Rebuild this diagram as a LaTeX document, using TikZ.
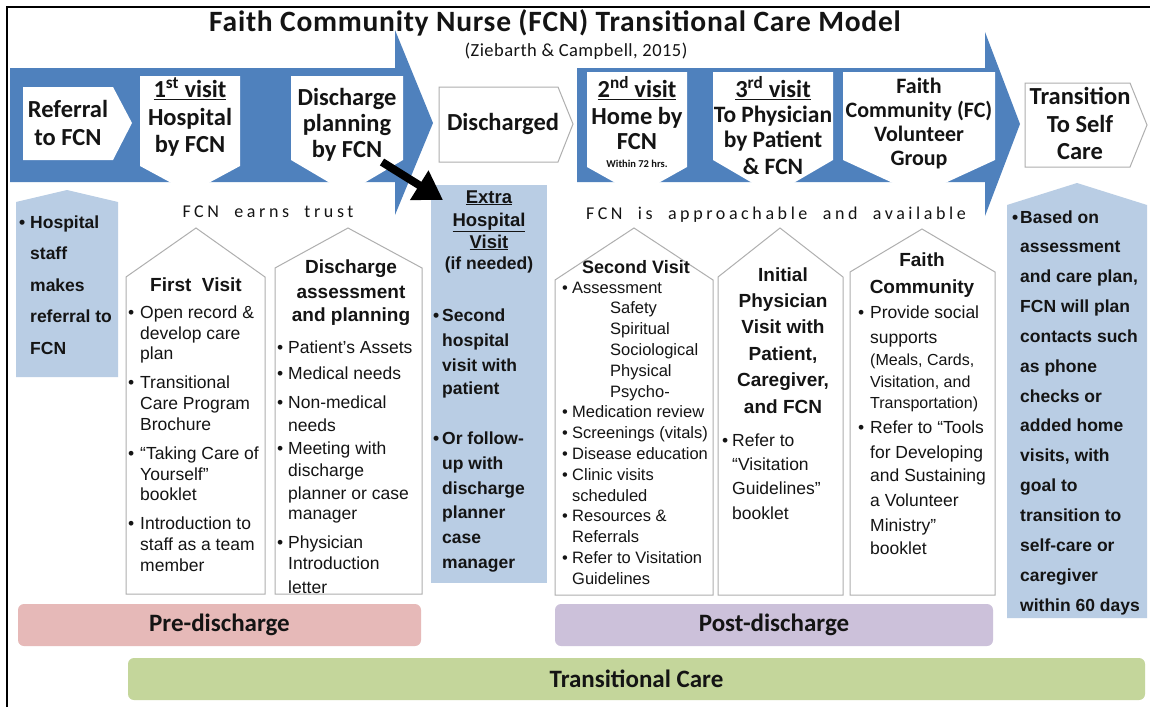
\documentclass[tikz,border=0pt]{standalone}
\usepackage{fontspec}
\setmainfont{Liberation Sans}
\newfontfamily\calib{Carlito}
\newfontfamily\calibwide[LetterSpace=2.5]{Carlito}
\newfontfamily\spacedcal[LetterSpace=20,WordSpace=2]{Carlito}
\usetikzlibrary{arrows.meta}
\definecolor{bigblue}{RGB}{79,129,189}
\definecolor{paleblue}{RGB}{185,205,228}
\definecolor{prepink}{RGB}{230,185,184}
\definecolor{postlilac}{RGB}{204,193,218}
\definecolor{tcgreen}{RGB}{196,214,155}
\definecolor{outl}{RGB}{175,175,175}
\definecolor{ink}{RGB}{20,20,20}
\newcommand\fsz[2]{\fontsize{#1}{#2}\selectfont}
\tikzset{
  whitebox/.style={fill=white},
  outbox/.style={fill=white, draw=outl, line width=1pt},
  house/.style={fill=white, draw=outl, line width=1pt},
  bluebox/.style={fill=paleblue},
  phasebar/.style={rounded corners=6pt, inner sep=0pt, text=ink, font=\calib\bfseries\fsz{25}{28}},
  ln/.style={anchor=base west, inner sep=0pt, text=ink},
  lnc/.style={anchor=base, inner sep=0pt, text=ink},
  topt/.style={anchor=base, inner sep=0pt, text=ink, font=\calib\bfseries\fsz{24.5}{27}},
  rg/.style={font=\fsz{17.5}{20}},
  rgs/.style={font=\fsz{16.5}{20}},
  bd/.style={font=\bfseries\fsz{17.5}{20}},
  hd/.style={font=\bfseries\fsz{19}{22}}
}
\begin{document}
\begin{tikzpicture}[x=1pt,y=-1pt]
\useasboundingbox (0,0) rectangle (1150,707);
\fill[white] (0,0) rectangle (1150,707);
\draw[line width=2pt] (7,707) -- (7,7) -- (1150,7);

% title
\node[font=\calibwide\bfseries\fsz{29.5}{32}, text=ink, inner sep=0pt] (title) at (555,23) {Faith Community Nurse (FCN) Transitional Care Model};
\node[font=\calibwide\fsz{18.5}{21}, text=ink, inner sep=0pt] (cite) at (576,51) {(Ziebarth \& Campbell, 2015)};

% big arrows
\fill[bigblue] (10,68) -- (395,68) -- (395,30) -- (433,123) -- (395,215) -- (395,182) -- (10,182) -- cycle;
\fill[bigblue] (577,68) -- (985,68) -- (985,32) -- (1020,124) -- (985,216) -- (985,182) -- (577,182) -- cycle;

% white step shapes
\fill[whitebox] (23,87) -- (113,87) -- (132,123) -- (113,160) -- (23,160) -- cycle;
\fill[whitebox] (140,76) -- (240,76) -- (240,166) -- (190,193) -- (140,166) -- cycle;
\fill[whitebox] (291,76) -- (403,76) -- (403,160) -- (347,193) -- (291,160) -- cycle;
\draw[outbox] (439,87) -- (558,87) -- (573,124) -- (558,162) -- (439,162) -- cycle;
\fill[whitebox] (587,72) -- (687,72) -- (687,167) -- (637,195) -- (587,167) -- cycle;
\fill[whitebox] (713,72) -- (833,72) -- (833,160) -- (773,195) -- (713,160) -- cycle;
\fill[whitebox] (843,72) -- (995,72) -- (995,160) -- (919,195) -- (843,160) -- cycle;
\draw[outbox] (1025,83) -- (1130,83) -- (1147,125) -- (1130,167) -- (1025,167) -- cycle;

% step texts
\node[topt] (r1) at (68,117.5) {Referral};
\node[topt] (r2) at (68,145.5) {to FCN};
\node[topt] (v1a) at (190,97.5) {\underline{1\textsuperscript{st} visit}};
\node[topt] (v1b) at (190,125.5) {Hospital};
\node[topt] (v1c) at (190,152.5) {by FCN};
\node[topt] (dp1) at (347,105.5) {Discharge};
\node[topt] (dp2) at (347,131.5) {planning};
\node[topt] (dp3) at (347,157.5) {by FCN};
\node[topt] (dis) at (503,130.5) {Discharged};
\node[topt] (v2a) at (637,97.5) {\underline{2\textsuperscript{nd} visit}};
\node[topt] (v2b) at (637,124.5) {Home by};
\node[topt] (v2c) at (637,149.5) {FCN};
\node[lnc, font=\calib\bfseries\fsz{10.5}{12}] (v2d) at (637,167) {Within 72 hrs.};
\node[topt] (v3a) at (773,97.5) {\underline{3\textsuperscript{rd} visit}};
\node[topt, font=\calib\bfseries\fsz{23.5}{26}] (v3b) at (773,122) {To Physician};
\node[topt, font=\calib\bfseries\fsz{23.5}{26}] (v3c) at (773,147) {by Patient};
\node[topt, font=\calib\bfseries\fsz{23.5}{26}] (v3d) at (773,174) {\& FCN};
\node[topt, font=\calib\bfseries\fsz{22}{24}] (fc1) at (919,93) {Faith};
\node[topt, font=\calib\bfseries\fsz{22}{24}] (fc2) at (919,117) {Community (FC)};
\node[topt, font=\calib\bfseries\fsz{22}{24}] (fc3) at (919,141) {Volunteer};
\node[topt, font=\calib\bfseries\fsz{22}{24}] (fc4) at (919,165) {Group};
\node[topt] (ts1) at (1080,104.5) {Transition};
\node[topt] (ts2) at (1080,132.5) {To Self};
\node[topt] (ts3) at (1080,159.5) {Care};

% spaced captions
\node[lnc, font=\spacedcal\fsz{18}{20}] (trust) at (268,217) {FCN earns trust};
\node[lnc, font=\spacedcal\fsz{18}{20}] (avail) at (776,219) {FCN is approachable and available};

% lower shapes
\fill[bluebox] (16,202) -- (67,190) -- (118,202) -- (118,377) -- (16,377) -- cycle;
\draw[house] (126,277) -- (196,228) -- (265,277) -- (265,594) -- (126,594) -- cycle;
\draw[house] (275,268) -- (348,228) -- (422,268) -- (422,594) -- (275,594) -- cycle;
\fill[bluebox] (431,185) rectangle (547,583);
\draw[house] (555,280) -- (634,228) -- (713,280) -- (713,595) -- (555,595) -- cycle;
\draw[house] (718,277) -- (780,228) -- (843,277) -- (843,595) -- (718,595) -- cycle;
\draw[house] (850,272) -- (922,229) -- (995,272) -- (995,595) -- (850,595) -- cycle;
\fill[bluebox] (1007,205) -- (1077,183) -- (1147,205) -- (1147,618) -- (1007,618) -- cycle;

% hospital staff
\node[ln, bd] (hsb) at (19,228) {•};
\foreach \ly/\lt [count=\i] in {228/Hospital, 259.5/staff, 291/makes, 322.5/referral to, 354/FCN}
  \node[ln, bd] (hs\i) at (30,\ly) {\lt};

% first visit
\node[lnc, hd] (fvh) at (196,291) {First\ \ Visit};
\foreach \ly/\lt [count=\i] in {318/Open record \&, 339/develop care, 359.5/plan, 388/Transitional, 409/Care Program, 430/Brochure, 459/“Taking Care of, 480/Yourself”, 500/booklet, 529/Introduction to, 550/staff as a team, 571/member}
  \node[ln, rg] (fv\i) at (140,\ly) {\lt};
\foreach \ly [count=\i] in {318,388,459,529}
  \node[ln, rg] (fvb\i) at (128,\ly) {•};

% discharge assessment
\foreach \ly/\lt [count=\i] in {273/Discharge, 298/assessment, 321/and planning}
  \node[lnc, hd] (dah\i) at (351,\ly) {\lt};
\foreach \ly/\lt [count=\i] in {353/Patient’s Assets, 379/Medical needs, 408/Non-medical, 431/needs, 454/Meeting with, 476/discharge, 499/planner or case, 519/manager, 548/Physician, 569/Introduction, 593/letter}
  \node[ln, rg] (da\i) at (288,\ly) {\lt};
\foreach \ly [count=\i] in {353,379,408,454,548}
  \node[ln, rg] (dab\i) at (277,\ly) {•};

% extra hospital visit
\foreach \ly/\lt [count=\i] in {203/Extra, 226/Hospital, 248/Visit}
  \node[lnc, font=\bfseries\fsz{18.5}{21}] (exh\i) at (489,\ly) {\underline{\lt}};
\node[lnc, bd] (exh4) at (489,269) {(if needed)};
\foreach \ly/\lt [count=\i] in {321/Second, 346/hospital, 371/visit with, 394/patient, 444/Or follow-, 469/up with, 494/discharge, 518/planner /, 543/case, 568/manager}
  \node[ln, bd] (ex\i) at (442,\ly) {\lt};
\foreach \ly [count=\i] in {321,444}
  \node[ln, bd] (exb\i) at (433,\ly) {•};

% second visit
\node[lnc, font=\bfseries\fsz{18}{21}] (svh) at (636,273) {Second Visit};
\foreach \ly/\lt [count=\i] in {293/Assessment, 417.8/Medication review, 438.6/Screenings (vitals), 459.4/Disease education, 480.2/Clinic visits, 501/scheduled, 521.8/Resources \&, 542.6/Referrals, 563.4/Refer to Visitation, 584.2/Guidelines}
  \node[ln, rgs] (sv\i) at (572,\ly) {\lt};
\foreach \ly/\lt [count=\i] in {313.8/Safety, 334.6/Spiritual, 355.4/Sociological, 376.2/Physical, 397/Psycho-}
  \node[ln, rgs] (svs\i) at (610,\ly) {\lt};
\foreach \ly [count=\i] in {293,417.8,438.6,459.4,480.2,521.8,563.4}
  \node[ln, rgs] (svb\i) at (562,\ly) {•};

% initial physician visit
\foreach \ly/\lt [count=\i] in {281/Initial, 307.4/Physician, 333.8/Visit with, 360.2/{Patient,}, 386.6/{Caregiver,}, 413/and FCN}
  \node[lnc, hd] (iph\i) at (783,\ly) {\lt};
\foreach \ly/\lt [count=\i] in {446/Refer to, 470.5/“Visitation, 494.5/Guidelines”, 519/booklet}
  \node[ln, rg] (ip\i) at (732,\ly) {\lt};
\node[ln, rg] (ipb) at (722,446) {•};

% faith community
\foreach \ly/\lt [count=\i] in {266/Faith, 293/Community}
  \node[lnc, hd] (fch\i) at (922,\ly) {\lt};
\foreach \ly/\lt [count=\i] in {318/Provide social, 343/supports, 433/Refer to “Tools, 458/for Developing, 481/and Sustaining, 506/a Volunteer, 531/Ministry”, 554/booklet}
  \node[ln, rg] (fcl\i) at (870,\ly) {\lt};
\foreach \ly/\lt [count=\i] in {365/{(Meals, Cards,}, 387/{Visitation, and}, 408/Transportation)}
  \node[ln, font=\fsz{16}{19}] (fcp\i) at (870,\ly) {\lt};
\foreach \ly [count=\i] in {318,433}
  \node[ln, rg] (fcb\i) at (858,\ly) {•};

% based on assessment
\node[ln, bd] (bab) at (1012,223) {•};
\foreach \lt [count=\i] in {Based on, assessment, {and care plan,}, FCN will plan, contacts such, as phone, checks or, added home, {visits, with}, goal to, transition to, self-care or, caregiver, within 60 days}
  \node[ln, bd] (ba\i) at (1020,{223+29.85*(\i-1)}) {\lt};

% phase bars
\node[phasebar, fill=prepink, minimum width=403pt, minimum height=42pt] (pre) at (219.5,625) {Pre-discharge};
\node[phasebar, fill=postlilac, minimum width=438pt, minimum height=42pt] (post) at (774,625) {Post-discharge};
\node[phasebar, fill=tcgreen, minimum width=1017pt, minimum height=42pt] (tc) at (636.5,679) {Transitional Care};

% black arrow
\coordinate (bstart) at (382,162);
\coordinate (bend) at (443,200);
\draw[line width=8pt, black, -{Triangle[width=33pt,length=28pt]}] (bstart) -- (bend);
\end{tikzpicture}
\end{document}
